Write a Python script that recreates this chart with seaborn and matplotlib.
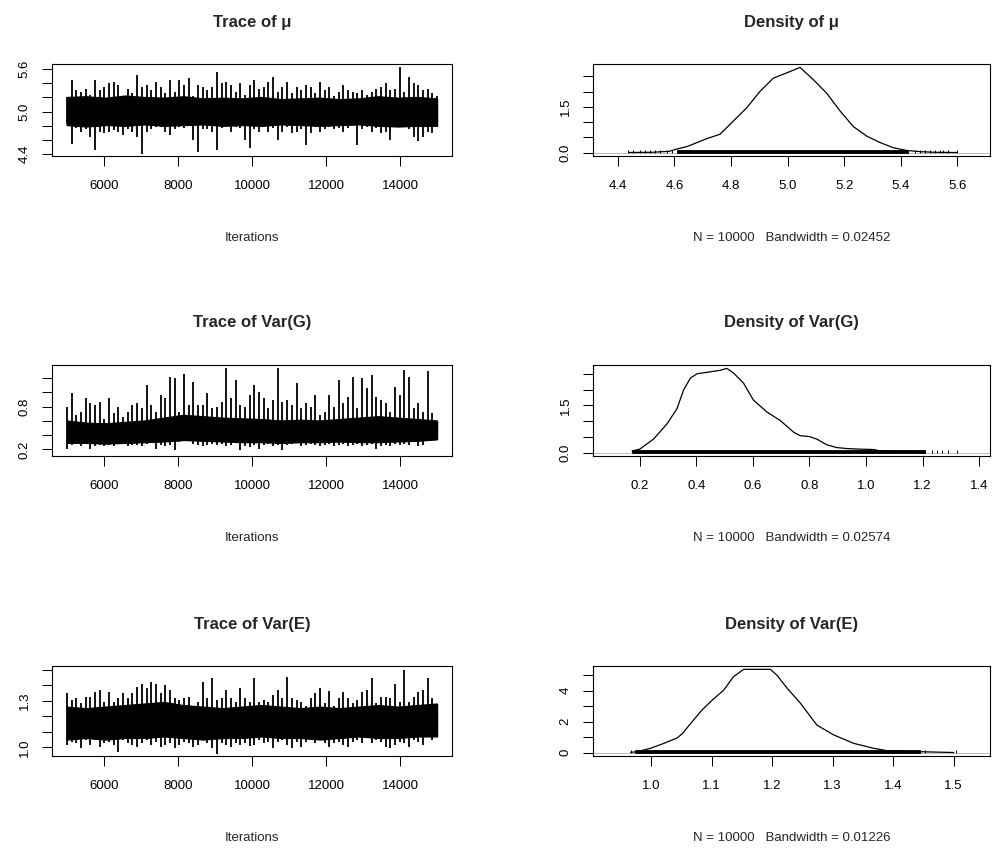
import numpy as np
import matplotlib
matplotlib.use("Agg")
import matplotlib.pyplot as plt
import seaborn as sns

# ---------------- data ----------------
titles_trace = ["Trace of μ", "Trace of Var(G)", "Trace of Var(E)"]
titles_dens = ["Density of μ", "Density of Var(G)", "Density of Var(E)"]
dens_xlabels = ["N = 10000   Bandwidth = 0.02452",
                "N = 10000   Bandwidth = 0.02574",
                "N = 10000   Bandwidth = 0.01226"]
iter_start, iter_end = 5001, 15000

# per-block maxima / minima of each chain
mu_upper = [5.21, 5.45, 5.30, 5.28, 5.32, 5.24, 5.45, 5.30, 5.35, 5.40, 5.42, 5.37, 5.22, 5.32, 5.26, 5.51,
            5.35, 5.37, 5.30, 5.42, 5.35, 5.26, 5.45, 5.28, 5.45, 5.37, 5.47, 5.22, 5.37, 5.35, 5.30, 5.35,
            5.56, 5.40, 5.42, 5.37, 5.28, 5.40, 5.24, 5.37,
            5.45, 5.32, 5.35, 5.42, 5.49, 5.28, 5.35, 5.42, 5.26, 5.35, 5.30, 5.37, 5.35, 5.26, 5.42, 5.30,
            5.35, 5.22, 5.28, 5.37, 5.30, 5.28, 5.26, 5.30, 5.24, 5.28, 5.32, 5.35, 5.40, 5.30, 5.32, 5.63,
            5.28, 5.49, 5.40, 5.37, 5.30, 5.32, 5.26, 5.22]
mu_lower = [4.82, 4.55, 4.77, 4.72, 4.75, 4.65, 4.46, 4.72, 4.70, 4.72, 4.74, 4.72, 4.67, 4.75, 4.72, 4.65,
            4.41, 4.72, 4.75, 4.79, 4.79, 4.72, 4.67, 4.75, 4.79, 4.77, 4.82, 4.60, 4.43, 4.75, 4.75, 4.72,
            4.46, 4.77, 4.86, 4.72, 4.79, 4.77, 4.60, 4.49,
            4.75, 4.72, 4.79, 4.72, 4.77, 4.60, 4.72, 4.79, 4.70, 4.72, 4.75, 4.53, 4.70, 4.79, 4.72, 4.75,
            4.79, 4.75, 4.77, 4.72, 4.77, 4.82, 4.53, 4.75, 4.79, 4.72, 4.77, 4.70, 4.72, 4.60, 4.82, 4.86,
            4.84, 4.75, 4.65, 4.58, 4.65, 4.72, 4.70, 4.78]
# edges of the solid central band
mu_core_top = [5.20, 5.21, 5.19, 5.22, 5.20, 5.19, 5.21, 5.18, 5.19, 5.18, 5.20, 5.17, 5.18, 5.19, 5.17,
               5.18, 5.21, 5.19, 5.20, 5.18]
mu_core_bottom = [4.81, 4.79, 4.81, 4.80, 4.82, 4.80, 4.81, 4.82, 4.80, 4.81, 4.80, 4.82, 4.81, 4.80,
                  4.81, 4.82, 4.80, 4.79, 4.80, 4.80]

g_upper = [0.80, 0.99, 0.68, 0.73, 0.92, 0.85, 0.82, 0.87, 0.62, 0.92, 0.71, 0.80, 0.66, 0.73, 0.82, 0.85,
           0.78, 1.11, 0.82, 0.73, 0.97, 0.92, 1.22, 1.20, 0.73, 1.26, 0.82, 1.15, 0.82, 0.82, 0.99, 0.78,
           0.80, 0.87, 1.34, 0.92, 1.17, 0.82, 0.80, 0.97,
           1.11, 1.01, 0.92, 0.78, 0.90, 1.35, 0.87, 0.90, 0.82, 1.13, 0.78, 0.85, 0.80, 0.97, 0.68, 0.73,
           0.97, 0.80, 1.17, 0.85, 0.94, 1.22, 0.78, 1.21, 1.06, 1.24, 0.94, 0.90, 0.85, 0.73, 1.08, 0.97,
           1.32, 1.22, 0.78, 0.85, 0.73, 1.30, 0.71, 0.57]
g_lower = [0.21, 0.26, 0.28, 0.24, 0.31, 0.21, 0.24, 0.26, 0.24, 0.26, 0.24, 0.27, 0.28, 0.24, 0.26, 0.26,
           0.24, 0.28, 0.33, 0.21, 0.26, 0.24, 0.26, 0.19, 0.31, 0.43, 0.33, 0.28, 0.26, 0.24, 0.26, 0.28,
           0.26, 0.28, 0.24, 0.26, 0.31, 0.19, 0.24, 0.23,
           0.26, 0.21, 0.26, 0.28, 0.24, 0.26, 0.19, 0.26, 0.28, 0.31, 0.24, 0.26, 0.28, 0.26, 0.24, 0.26,
           0.28, 0.24, 0.26, 0.28, 0.25, 0.26, 0.28, 0.24, 0.26, 0.28, 0.21, 0.24, 0.26, 0.24, 0.28, 0.26,
           0.28, 0.26, 0.31, 0.24, 0.26, 0.36, 0.33, 0.45]
g_core_top = [0.60, 0.57, 0.56, 0.58, 0.60, 0.64, 0.68, 0.66, 0.64, 0.63, 0.62, 0.60, 0.61, 0.60, 0.62,
              0.64, 0.66, 0.64, 0.62, 0.60]
g_core_bottom = [0.29, 0.29, 0.28, 0.29, 0.30, 0.31, 0.33, 0.32, 0.31, 0.30, 0.30, 0.29, 0.30, 0.30,
                 0.31, 0.30, 0.30, 0.31, 0.32, 0.34]

e_upper = [1.350, 1.306, 1.317, 1.284, 1.327, 1.327, 1.360, 1.370, 1.295, 1.360, 1.295, 1.317, 1.350, 1.317,
           1.350, 1.390, 1.410, 1.380, 1.424, 1.410, 1.350, 1.400, 1.370, 1.317, 1.306, 1.317, 1.327, 1.260,
           1.295, 1.424, 1.317, 1.446, 1.306, 1.317, 1.370, 1.317, 1.295, 1.380, 1.317, 1.295,
           1.446, 1.295, 1.306, 1.295, 1.338, 1.370, 1.317, 1.457, 1.317, 1.306, 1.295, 1.270, 1.317, 1.350,
           1.380, 1.284, 1.365, 1.270, 1.317, 1.360, 1.317, 1.284, 1.306, 1.360, 1.370, 1.446, 1.284, 1.327,
           1.327, 1.317, 1.410, 1.295, 1.500, 1.295, 1.327, 1.360, 1.370, 1.446, 1.317, 1.260]
e_lower = [1.015, 1.036, 1.025, 0.993, 1.047, 1.015, 1.047, 1.004, 1.025, 1.036, 1.015, 0.971, 1.047, 1.025,
           1.015, 1.004, 1.025, 1.047, 1.015, 1.036, 1.004, 1.015, 1.025, 0.993, 1.015, 1.036, 1.025, 1.004,
           1.015, 1.047, 1.025, 0.993, 0.960, 1.025, 1.015, 1.004, 1.025, 1.015, 1.030, 1.010,
           1.015, 1.047, 1.025, 1.036, 0.993, 1.036, 1.047, 1.015, 0.993, 1.036, 1.004, 1.036, 1.058, 1.025,
           1.047, 1.025, 1.004, 1.025, 1.036, 1.015, 1.004, 1.036, 1.047, 1.025, 1.090, 1.025, 1.047, 1.036,
           1.004, 0.993, 1.015, 1.036, 1.025, 1.004, 1.047, 1.036, 1.015, 1.070, 1.050, 1.080]
e_core_top = [1.26, 1.25, 1.26, 1.27, 1.28, 1.29, 1.27, 1.26, 1.25, 1.26, 1.27, 1.26, 1.25, 1.26, 1.25,
              1.26, 1.27, 1.26, 1.27, 1.28]
e_core_bottom = [1.05, 1.06, 1.05, 1.06, 1.06, 1.07, 1.06, 1.05, 1.06, 1.06, 1.07, 1.06, 1.06, 1.05,
                 1.06, 1.07, 1.06, 1.06, 1.07, 1.07]

# kernel density curves
dens_mu_x = [4.44, 4.52, 4.58, 4.61, 4.644, 4.714, 4.761, 4.808, 4.856, 4.903, 4.950, 4.997, 5.044,
             5.091, 5.138, 5.186, 5.233, 5.280, 5.327, 5.374, 5.421, 5.47, 5.52, 5.60]
dens_mu_y = [0.004, 0.01, 0.04, 0.12, 0.195, 0.456, 0.60, 1.03, 1.47, 2.01, 2.44, 2.61, 2.79,
             2.39, 1.95, 1.36, 0.85, 0.54, 0.33, 0.16, 0.07, 0.03, 0.01, 0.003]
dens_g_x = [0.173, 0.20, 0.249, 0.297, 0.332, 0.355, 0.379, 0.403, 0.45, 0.485, 0.508, 0.532, 0.567,
            0.602, 0.65, 0.697, 0.744, 0.767, 0.80, 0.826, 0.861, 0.897, 0.932, 0.98, 1.026, 1.05,
            1.12, 1.19, 1.21]
dens_g_y = [0.05, 0.11, 0.43, 0.92, 1.40, 1.99, 2.37, 2.51, 2.57, 2.62, 2.68, 2.53, 2.21,
            1.67, 1.29, 1.02, 0.65, 0.54, 0.51, 0.43, 0.25, 0.16, 0.13, 0.11, 0.10, 0.055,
            0.04, 0.03, 0.02]
dens_e_x = [0.966, 0.977, 0.999, 1.021, 1.043, 1.052, 1.06, 1.07, 1.084, 1.101, 1.12, 1.136, 1.153,
            1.197, 1.208, 1.225, 1.247, 1.274, 1.302, 1.335, 1.368, 1.39, 1.445, 1.50]
dens_e_y = [0.02, 0.06, 0.28, 0.60, 0.95, 1.24, 1.63, 2.10, 2.75, 3.39, 4.04, 4.90, 5.38,
            5.38, 5.00, 4.15, 3.18, 1.78, 1.14, 0.60, 0.28, 0.13, 0.06, 0.01]

# observation rug: dense span plus isolated tail observations
rug_mu_span = (4.608, 5.426)
rug_mu_tails = [4.437, 4.455, 4.479, 4.496, 4.514, 4.532, 4.549, 4.573, 4.591,
                5.451, 5.468, 5.486, 5.504, 5.521, 5.539, 5.551, 5.568, 5.598]
rug_g_span = (0.173, 1.208)
rug_g_tails = [1.232, 1.25, 1.267, 1.291, 1.32]
rug_e_span = (0.974, 1.445)
rug_e_tails = [0.966, 1.453, 1.503]

# axis ticks / labels
trace_xticks = [6000, 8000, 10000, 12000, 14000]
trace_yticks = [[4.4, 4.6, 4.8, 5.0, 5.2, 5.4, 5.6],
                [0.2, 0.4, 0.6, 0.8, 1.0, 1.2],
                [1.0, 1.1, 1.2, 1.3, 1.4, 1.5]]
trace_ylabels = [["4.4", "", "", "5.0", "", "", "5.6"],
                 ["0.2", "", "", "0.8", "", ""],
                 ["1.0", "", "", "1.3", "", ""]]
dens_xticks = [[4.4, 4.6, 4.8, 5.0, 5.2, 5.4, 5.6],
               [0.2, 0.4, 0.6, 0.8, 1.0, 1.2, 1.4],
               [1.0, 1.1, 1.2, 1.3, 1.4, 1.5]]
dens_yticks = [[0, 0.5, 1.0, 1.5, 2.0, 2.5],
               [0, 0.5, 1.0, 1.5, 2.0, 2.5],
               [0, 1, 2, 3, 4, 5]]
dens_ylabels = [["0.0", "", "", "1.5", "", ""],
                ["0.0", "", "", "1.5", "", ""],
                ["0", "", "2", "", "4", ""]]

# ---------------- layout ----------------
sns.set_style("white")
plt.rcParams['font.family'] = ['Liberation Sans', 'DejaVu Sans']

W, H = 994, 851
fig = plt.figure(figsize=(W / 100, H / 100), dpi=100)


def add_ax(x0, y0, x1, y1):
    return fig.add_axes([x0 / W, 1 - y1 / H, (x1 - x0) / W, (y1 - y0) / H])


rows = [(64, 156), (365, 456), (666, 756)]
trace_box = (52, 452)
dens_box = (593, 990)
trace_xlim = (4601, 15400)
trace_ylims = [(4.376, 5.67), (0.106, 1.387), (0.944, 1.525)]
dens_xlims = [(4.312, 5.716), (0.035, 1.438), (0.904, 1.56)]


def style(ax, xlabel, title, row):
    y0, y1 = rows[row]
    hgt = y1 - y0
    for s in ax.spines.values():
        s.set_visible(True)
        s.set_color("black")
        s.set_linewidth(0.8)
    ax.tick_params(direction="out", length=7.5, width=0.75, labelsize=9.5, colors="black",
                   left=True, bottom=True)
    ax.tick_params(axis="x", pad=10)
    ax.tick_params(axis="y", pad=8)
    for lab in ax.get_yticklabels():
        lab.set_rotation(90)
        lab.set_va("center")
    ax.set_title(title, fontsize=12, fontweight="bold", pad=27)
    ax.set_xlabel(xlabel, fontsize=9.5, va="center")
    ax.xaxis.set_label_coords(0.5, -(238 - 156) / hgt)
    ax.set_ylabel("")
    ax.grid(False)


traces = [(mu_upper, mu_lower, mu_core_top, mu_core_bottom),
          (g_upper, g_lower, g_core_top, g_core_bottom),
          (e_upper, e_lower, e_core_top, e_core_bottom)]
dens = [(dens_mu_x, dens_mu_y), (dens_g_x, dens_g_y), (dens_e_x, dens_e_y)]
rugs = [(rug_mu_span, rug_mu_tails), (rug_g_span, rug_g_tails), (rug_e_span, rug_e_tails)]

for r in range(3):
    y0, y1 = rows[r]
    # ---- trace ----
    ax = add_ax(trace_box[0], y0, trace_box[1], y1)
    up, lo, ctop, cbot = traces[r]
    n = len(up)
    blocks = np.linspace(iter_start, iter_end, n)
    cx = np.linspace(iter_start, iter_end, len(ctop))
    ax.fill_between(cx, cbot, ctop, color="black", lw=0.8, edgecolor="black")
    ax.vlines(blocks, lo, up, color="black", lw=1.3)
    sns.lineplot(x=cx, y=ctop, ax=ax, color="black", lw=0.8, estimator=None)
    sns.lineplot(x=cx, y=cbot, ax=ax, color="black", lw=0.8, estimator=None)
    ax.set_xlim(*trace_xlim)
    ax.set_ylim(*trace_ylims[r])
    ax.set_xticks(trace_xticks, [str(t) for t in trace_xticks])
    ax.set_yticks(trace_yticks[r], trace_ylabels[r])
    style(ax, "Iterations", titles_trace[r], r)

    # ---- density ----
    ax = add_ax(dens_box[0], y0, dens_box[1], y1)
    dx, dy = dens[r]
    ymax = max(dy)
    ax.axhline(0, color="#bbbbbb", lw=0.7, zorder=1)
    sns.lineplot(x=dx, y=dy, ax=ax, color="black", lw=0.9, sort=False, estimator=None, zorder=3)
    span, tails = rugs[r]
    h = ymax * 0.03
    ax.fill_between(list(span), 0, h, color="black", lw=0.6, zorder=2)
    ax.vlines(tails, 0, h, color="black", lw=0.7, zorder=2)
    ax.set_xlim(*dens_xlims[r])
    ax.set_ylim(-0.04 * ymax, 1.04 * ymax)
    ax.set_xticks(dens_xticks[r], [f"{t:.1f}" for t in dens_xticks[r]])
    ax.set_yticks(dens_yticks[r], dens_ylabels[r])
    style(ax, dens_xlabels[r], titles_dens[r], r)

fig.savefig("out.png", dpi=100, facecolor="white")
